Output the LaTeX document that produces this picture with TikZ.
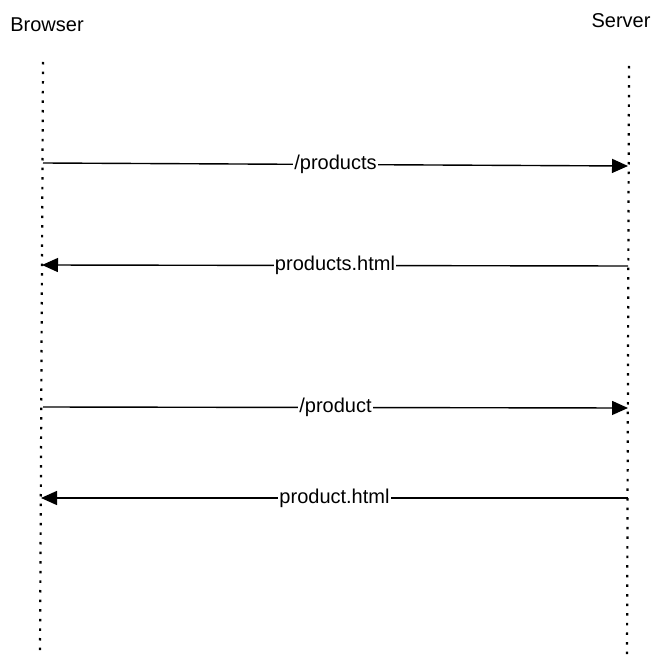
\documentclass[tikz,border=0pt]{standalone}
\usepackage{fontspec}
\setmainfont{Liberation Sans}
\usetikzlibrary{arrows.meta}

\begin{document}
\begin{tikzpicture}[x=1pt,y=-1pt,
  lifeline/.style={line width=2.2pt,dash pattern=on 2.5pt off 7.1pt},
  msg/.style={line width=1.4pt,-{Triangle[length=16pt,width=14pt]}},
  msglabel/.style={fill=white,inner sep=1pt,font=\fontsize{20}{24}\selectfont},
  actor/.style={font=\fontsize{20}{24}\selectfont,inner sep=0pt}]
\useasboundingbox (0,0) rectangle (661,668);

\node[actor] (browser) at (47,25) {Browser};
\node[actor] (server) at (621,21) {Server};

\coordinate (btop) at (43,62);
\coordinate (bbot) at (40,656);
\coordinate (stop) at (629,66);
\coordinate (sbot) at (627,659);
\draw[lifeline] (btop) -- (bbot);
\draw[lifeline] (stop) -- (sbot);

\coordinate (b1) at (43,163);
\coordinate (s1) at (628,166);
\coordinate (s2) at (628,266);
\coordinate (b2) at (42,265);
\coordinate (b3) at (43,407);
\coordinate (s3) at (628,408);
\coordinate (s4) at (628,498);
\coordinate (b4) at (41,498);

\draw[msg] (b1) -- node[msglabel] {/products} (s1);
\draw[msg] (s2) -- node[msglabel] {products.html} (b2);
\draw[msg] (b3) -- node[msglabel] {/product} (s3);
\draw[msg] (s4) -- node[msglabel] {product.html} (b4);

\end{tikzpicture}
\end{document}
